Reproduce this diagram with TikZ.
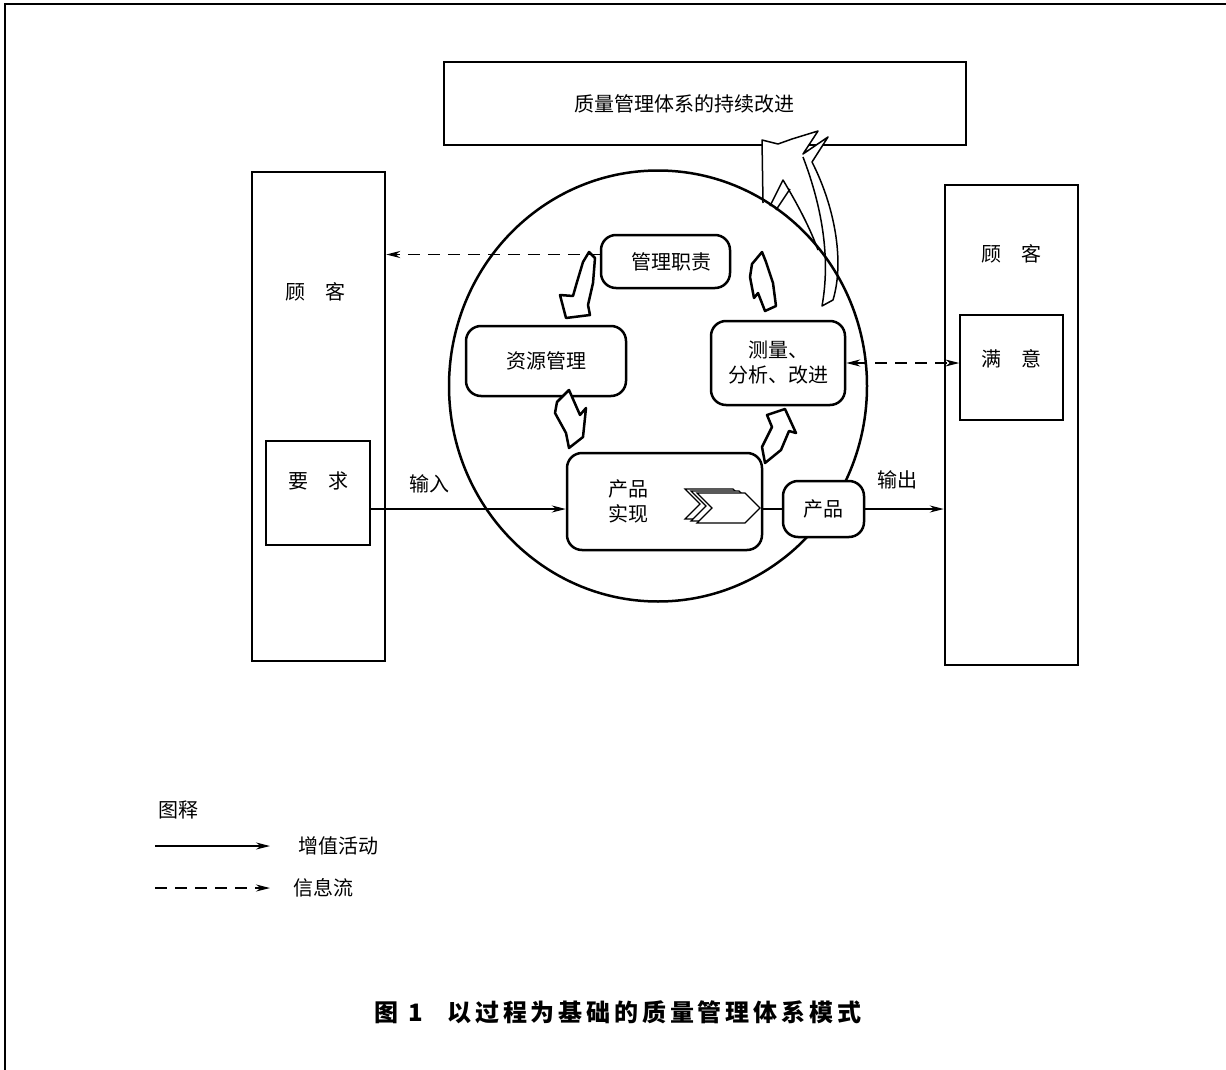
\documentclass[tikz,border=0pt]{standalone}
\usepackage{fontspec}
\setmainfont{Noto Sans CJK SC}
\usetikzlibrary{arrows.meta,shapes.geometric,positioning}

\begin{document}
\begin{tikzpicture}[x=1pt, y=-1pt,
  font=\fontsize{20}{25}\selectfont,
  >={Stealth[length=14pt,width=7pt]},
  box/.style={draw, line width=2.5pt, inner sep=0pt},
  inbox/.style={draw, line width=1.5pt, inner sep=0pt},
  task/.style={draw, fill=white, line width=2.5pt, rounded corners=15pt, inner sep=0pt, align=center},
  flow/.style={line width=1.2pt, ->},
  info/.style={flow, dash pattern=on 12pt off 8pt},
  turn/.style={draw, fill=white, line width=2.5pt, line join=round},
  bigturn/.style={line width=1.5pt, line join=round},
  lbl/.style={inner sep=2pt}
]
\useasboundingbox (0,0) rectangle (1226,1070);
% frame
\draw[line width=2pt] (5,1070) -- (5,4) -- (1226,4);

% top box
\node[box, minimum width=522pt, minimum height=83pt,
  label={[anchor=center, xshift=-21pt]center:质量管理体系的持续改进}] (improve) at (705,103.5) {};

% customers
\node[box, minimum width=133pt, minimum height=489pt,
  label={[anchor=center, xshift=-3pt, yshift=-121pt]north:顾\quad 客}] (lcust) at (318.5,416.5) {};
\node[inbox, minimum width=104pt, minimum height=104pt,
  label={[anchor=center, yshift=-41pt]north:要\quad 求}] (req) at (318,493) {};
\node[box, minimum width=133pt, minimum height=480pt,
  label={[anchor=center, yshift=-70pt]north:顾\quad 客}] (rcust) at (1011.5,425) {};
\node[inbox, minimum width=103pt, minimum height=105pt,
  label={[anchor=center, yshift=-45pt]north:满\quad 意}] (satis) at (1011.5,367.5) {};

% big improvement arrow
\draw[bigturn, fill=white] (763,203) -- (762,140) -- (778,144) -- (792,139) -- (818,131) -- (803,154) -- (828,137) -- (812,162)
  .. controls (834,205) and (845,260) .. (833,300) -- (822,306) .. controls (830,262) and (824,212) .. (803,157);
\draw[bigturn] (770,206) -- (783,180) .. controls (798,205) and (810,228) .. (818,250);
\draw[bigturn] (776,210) -- (790,189);

% process loop
\node[ellipse, draw, line width=2.5pt, minimum width=418pt, minimum height=431pt, inner sep=0pt] (loop) at (658,386) {};

\node[task, minimum width=129pt, minimum height=53pt,
  label={[anchor=center, xshift=6pt]center:管理职责}] (resp) at (665.5,261.5) {};
\node[task, minimum width=160pt, minimum height=70pt] (res) at (546,361) {资源管理};
\node[task, minimum width=134pt, minimum height=84pt] (meas) at (778,363) {测量、\\分析、改进};
\node[task, minimum width=195pt, minimum height=97pt,
  label={[anchor=center, xshift=-36pt, align=center]center:产品\\实现}] (real) at (664.5,501.5) {};
\node[task, minimum width=81pt, minimum height=56pt] (prod) at (823.5,509) {产品};

% chevrons
\foreach \i in {2,1,0}
  \draw[fill=white, line width=1.2pt, shift={(-6*\i,-2*\i)}] (697,493) -- (745,493) -- (760,508) -- (745,523) -- (697,523) -- (712,508) -- cycle;

% turning arrows
\draw[turn] (589,252) -- (583,262) -- (577,282) -- (573,296) -- (560,295) -- (566,318) -- (590,315) -- (588,305) -- (593,283) -- (595,258) -- cycle;
\draw[turn] (569,390) -- (557,402) -- (555,413) -- (566,433) -- (569,448) -- (583,437) -- (586,408) -- (580,415) -- cycle;
\draw[turn] (765,463) -- (762,447) -- (772,427) -- (767,415) -- (785,409) -- (796,433) -- (789,431) -- (781,450) -- cycle;
\draw[turn] (762,252) -- (752,264) -- (750,277) -- (754,298) -- (758,293) -- (765,311) -- (776,306) -- (773,283) -- (766,262) -- cycle;

% connectors
\draw[flow] (req.east |- prod) -- node[lbl, pos=0.3, above=13pt] {输入} (real.west |- prod);
\draw[line width=1.2pt] (real.east |- prod) -- (prod.west);
\draw[flow] (prod.east) -- node[lbl, pos=0.41, above=17pt] {输出} (rcust.west |- prod);
\draw[info] ([yshift=7pt]resp.west) -- ([yshift=7pt]resp.west -| lcust.east);
\draw[info, <->] (meas.east) -- (meas.east -| satis.west);

% legend
\node[lbl] (key) at (178,810) {图释};
\coordinate (k1) at (155,846);
\node[lbl, anchor=west] (addval) at (296,846) {增值活动};
\draw[flow] (k1) -- ([xshift=-26pt]addval.west);
\coordinate (k2) at (155,888);
\node[lbl, anchor=west] (infoflow) at (291,888) {信息流};
\draw[info] (k2) -- ([xshift=-21pt]infoflow.west);

% caption
\node (cap) at (618,1012) {\fontsize{24}{28}\selectfont\bfseries\addfontfeatures{LetterSpace=16}图\hspace{10pt}1\hspace{24pt}以过程为基础的质量管理体系模式};
\end{tikzpicture}
\end{document}
